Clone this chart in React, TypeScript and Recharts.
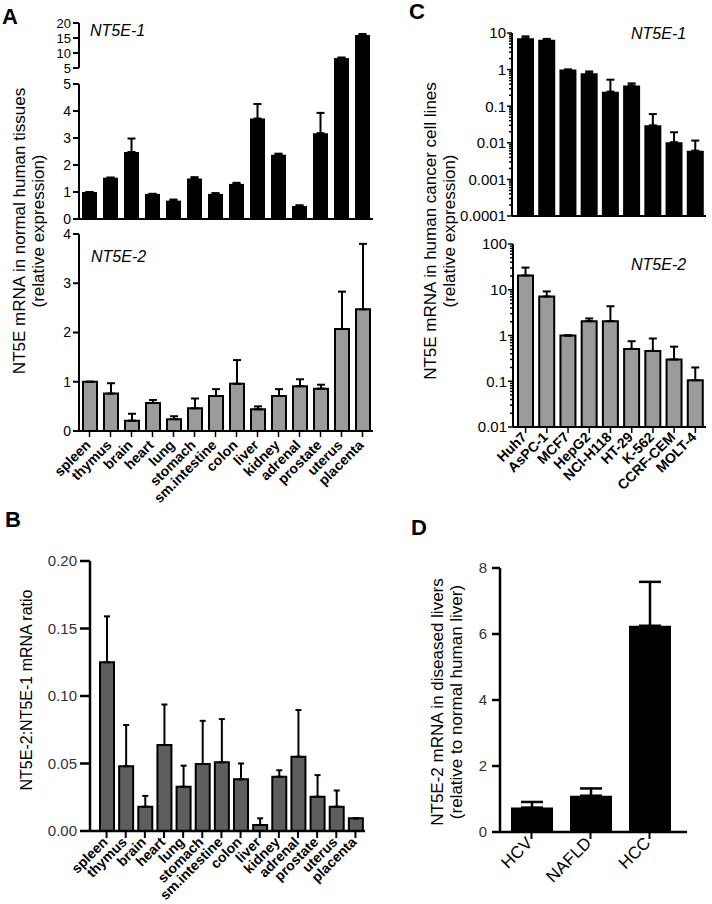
import React from 'react';
import { BarChart, Bar, XAxis, YAxis, ErrorBar } from 'recharts';

const FONT = '"Liberation Sans", Arial, Helvetica, sans-serif';

// panel A / B categories
const tissues = [
  'spleen', 'thymus', 'brain', 'heart', 'lung', 'stomach', 'sm.intestine',
  'colon', 'liver', 'kidney', 'adrenal', 'prostate', 'uterus', 'placenta',
];
// A, NT5E-1 (relative expression) and upward SEM
const nt5e1Tissue = [1.0, 1.53, 2.48, 0.93, 0.68, 1.5, 0.93, 1.3, 3.72, 2.38, 0.48, 3.18, 8.3, 16.0];
const nt5e1TissueErr = [0, 0, 0.5, 0, 0.04, 0.05, 0.03, 0.04, 0.54, 0.04, 0.03, 0.75, 0.2, 0.35];
// A, NT5E-2
const nt5e2Tissue = [1.0, 0.76, 0.21, 0.57, 0.24, 0.46, 0.71, 0.96, 0.44, 0.71, 0.91, 0.86, 2.07, 2.47];
const nt5e2TissueErr = [0, 0.21, 0.14, 0.06, 0.06, 0.2, 0.14, 0.48, 0.06, 0.14, 0.14, 0.08, 0.76, 1.33];
// B, ratio
const ratio = [0.125, 0.048, 0.018, 0.0637, 0.0328, 0.0496, 0.0509, 0.0383, 0.0044, 0.0402, 0.055, 0.0254, 0.018, 0.0094];
const ratioErr = [0.034, 0.0305, 0.008, 0.030, 0.0156, 0.032, 0.032, 0.0117, 0.005, 0.0048, 0.0346, 0.016, 0.012, 0];

// panel C
const cellLines = ['Huh7', 'AsPC-1', 'MCF7', 'HepG2', 'NCI-H118', 'HT-29', 'K-562', 'CCRF-CEM', 'MOLT-4'];
const nt5e1Cell = [7.2, 6.5, 1.0, 0.8, 0.25, 0.37, 0.03, 0.0104, 0.0061];
const nt5e1CellErr = [0.9, 0.4, 0, 0.09, 0.28, 0.05, 0.031, 0.009, 0.0054];
const nt5e2Cell = [20.5, 7.1, 1.0, 2.06, 2.06, 0.51, 0.46, 0.3, 0.105];
const nt5e2CellErr = [10, 2.1, 0, 0.3, 2.3, 0.24, 0.4, 0.27, 0.095];

// panel D
const liverGroups = ['HCV', 'NAFLD', 'HCC'];
const nt5e2Liver = [0.74, 1.1, 6.25];
const nt5e2LiverErr = [0.17, 0.22, 1.33];

type Row = { name: string; value: number | null; err: [number, number] | null };

const makeRows = (
  names: string[],
  values: number[],
  errs: number[],
  keep: (v: number) => boolean = () => true,
): Row[] =>
  names.map((name, i) => ({
    name,
    value: keep(values[i]) ? values[i] : null,
    err: keep(values[i]) ? [0, errs[i]] : null,
  }));

const BREAK = 5;
const aTopUpper = makeRows(tissues, nt5e1Tissue, nt5e1TissueErr, (v) => v > BREAK);
const aTopLower = makeRows(tissues, nt5e1Tissue, nt5e1TissueErr, (v) => v <= BREAK);
// tall bars still drawn in the lower part (clipped), without their error bars
aTopLower.forEach((r, i) => {
  if (r.value === null) r.value = nt5e1Tissue[i];
});
const aBottom = makeRows(tissues, nt5e2Tissue, nt5e2TissueErr);
const bData = makeRows(tissues, ratio, ratioErr);
const cTop = makeRows(cellLines, nt5e1Cell, nt5e1CellErr);
const cBottom = makeRows(cellLines, nt5e2Cell, nt5e2CellErr);
const dData = makeRows(liverGroups, nt5e2Liver, nt5e2LiverErr);

const logTicks = (lo: number, hi: number) => {
  const t: number[] = [];
  for (let e = lo; e < hi; e++) {
    for (let m = 1; m < 10; m++) t.push(Number((m * Math.pow(10, e)).toPrecision(2)));
  }
  t.push(Math.pow(10, hi));
  return t;
};

const SlantTick = (props: any) => {
  const { x, y, payload, fs = 12, bold = true, dx = 0, dy = 0 } = props;
  const ax = x + dx;
  const ay = y + dy;
  return (
    <text
      x={ax}
      y={ay}
      transform={`rotate(-45 ${ax} ${ay})`}
      textAnchor="end"
      fontSize={fs}
      fontWeight={bold ? 'bold' : 'normal'}
      fontFamily={FONT}
      fill="#000"
    >
      {payload.value}
    </text>
  );
};

const LogTick = (props: any) => {
  const { y, payload, axisX, fs = 15 } = props;
  const v = payload.value as number;
  const e = Math.log10(v);
  const major = Math.abs(e - Math.round(e)) < 1e-6;
  return (
    <g>
      <line x1={axisX - (major ? 5 : 3)} x2={axisX} y1={y} y2={y} stroke="#000" strokeWidth={1.5} />
      {major && (
        <text x={axisX - 6} y={y} dy="0.36em" textAnchor="end" fontSize={fs} fontFamily={FONT} fill="#000">
          {String(v)}
        </text>
      )}
    </g>
  );
};

const axisStyle = { stroke: '#000', strokeWidth: 2 };
const tickFont = (fs: number, fill = '#000') => ({ fontSize: fs, fontFamily: FONT, fill });

const VTitle = ({ cx, cy, fs, lines }: { cx: number; cy: number; fs: number; lines: string[] }) => (
  <div
    style={{
      position: 'absolute',
      left: cx,
      top: cy,
      transform: 'translate(-50%, -50%) rotate(-90deg)',
      whiteSpace: 'nowrap',
      textAlign: 'center',
      fontFamily: FONT,
      fontSize: fs,
      lineHeight: 1.1,
      color: '#000',
    }}
  >
    {lines.map((l) => (
      <div key={l}>{l}</div>
    ))}
  </div>
);

const Note = ({ x, y, text, fs = 16, italic = true, bold = false }: any) => (
  <div
    style={{
      position: 'absolute',
      left: x,
      top: y,
      fontFamily: FONT,
      fontSize: fs,
      fontStyle: italic ? 'italic' : 'normal',
      fontWeight: bold ? 'bold' : 'normal',
      whiteSpace: 'nowrap',
      lineHeight: 1,
    }}
  >
    {text}
  </div>
);

const abs = (left: number, top: number): React.CSSProperties => ({ position: 'absolute', left, top });

export default function App() {
  return (
    <div style={{ position: 'absolute', left: 0, top: 0, width: 712, height: 904, background: '#fff', overflow: 'hidden' }}>
      {/* A, NT5E-1 upper segment (broken axis, 5-20) */}
      <div style={abs(0, 0)}>
        <BarChart width={373} height={76} data={aTopUpper} margin={{ top: 23, right: 0, bottom: 0, left: 0 }}>
          <XAxis dataKey="name" hide />
          <YAxis
            width={79}
            domain={[BREAK - 8 / 3, 20]}
            ticks={[5, 10, 15, 20]}
            allowDataOverflow
            axisLine={{ ...axisStyle, strokeDasharray: '45 40' }}
            tickLine={axisStyle}
            tickSize={6}
            tickMargin={2}
            tick={tickFont(13)}
            interval={0}
          />
          <Bar dataKey="value" fill="#000" barSize={15} isAnimationActive={false}>
            <ErrorBar dataKey="err" width={4} stroke="#000" strokeWidth={2} direction="y" />
          </Bar>
        </BarChart>
      </div>
      {/* A, NT5E-1 lower segment (0-5) */}
      <div style={abs(0, 0)}>
        <BarChart width={373} height={227} data={aTopLower} margin={{ top: 76, right: 0, bottom: 0, left: 0 }}>
          <XAxis dataKey="name" height={8} tick={false} axisLine={axisStyle} tickLine={{ stroke: '#000', strokeWidth: 1.5 }} tickSize={5} interval={0} />
          <YAxis
            width={79}
            domain={[0, BREAK + 8 / 27]}
            ticks={[0, 1, 2, 3, 4, 5]}
            allowDataOverflow
            axisLine={{ ...axisStyle, strokeDasharray: '0 8 300' }}
            tickLine={axisStyle}
            tickSize={6}
            tickMargin={2}
            tick={tickFont(14)}
            interval={0}
          />
          <Bar dataKey="value" fill="#000" barSize={15} isAnimationActive={false}>
            <ErrorBar dataKey="err" width={4} stroke="#000" strokeWidth={2} direction="y" />
          </Bar>
        </BarChart>
      </div>
      {/* A, NT5E-2 */}
      <div style={abs(0, 220)}>
        <BarChart width={373} height={296} data={aBottom} margin={{ top: 14, right: 0, bottom: 0, left: 0 }}>
          <XAxis
            dataKey="name"
            height={85}
            axisLine={axisStyle}
            tickLine={{ stroke: '#000', strokeWidth: 1.5 }}
            tickSize={6}
            interval={0}
            tick={<SlantTick fs={14} dx={2} dy={7} />}
          />
          <YAxis
            width={79}
            domain={[0, 4]}
            ticks={[0, 1, 2, 3, 4]}
            axisLine={axisStyle}
            tickLine={axisStyle}
            tickSize={6}
            tickMargin={2}
            tick={tickFont(14)}
            interval={0}
          />
          <Bar dataKey="value" fill="#9b9b9b" stroke="#000" strokeWidth={2} barSize={14} isAnimationActive={false}>
            <ErrorBar dataKey="err" width={4} stroke="#000" strokeWidth={2} direction="y" />
          </Bar>
        </BarChart>
      </div>

      {/* C, NT5E-1 (log) */}
      <div style={abs(360, 0)}>
        <BarChart width={346} height={224} data={cTop} margin={{ top: 33, right: 0, bottom: 0, left: 0 }}>
          <XAxis dataKey="name" height={8} tick={false} axisLine={axisStyle} tickLine={{ stroke: '#000', strokeWidth: 1.5 }} tickSize={5} interval={0} padding={{ left: 3, right: 0 }} />
          <YAxis
            width={152}
            scale="log"
            domain={[0.0001, 10]}
            ticks={logTicks(-4, 1)}
            allowDataOverflow
            axisLine={axisStyle}
            tickLine={false}
            interval={0}
            tick={<LogTick axisX={152} fs={15} />}
          />
          <Bar dataKey="value" fill="#000" barSize={17} isAnimationActive={false}>
            <ErrorBar dataKey="err" width={4} stroke="#000" strokeWidth={2} direction="y" />
          </Bar>
        </BarChart>
      </div>
      {/* C, NT5E-2 (log) */}
      <div style={abs(360, 230)}>
        <BarChart width={346} height={275} data={cBottom} margin={{ top: 14, right: 0, bottom: 0, left: 0 }}>
          <XAxis
            dataKey="name"
            height={78}
            axisLine={axisStyle}
            tickLine={{ stroke: '#000', strokeWidth: 1.5 }}
            tickSize={6}
            interval={0}
            padding={{ left: 2, right: 0 }}
            tick={<SlantTick fs={14} dx={2} dy={3} />}
          />
          <YAxis
            width={153}
            scale="log"
            domain={[0.01, 100]}
            ticks={logTicks(-2, 2)}
            allowDataOverflow
            axisLine={axisStyle}
            tickLine={false}
            interval={0}
            tick={<LogTick axisX={153} fs={15} />}
          />
          <Bar dataKey="value" fill="#9b9b9b" stroke="#000" strokeWidth={2} barSize={15} isAnimationActive={false}>
            <ErrorBar dataKey="err" width={4} stroke="#000" strokeWidth={2} direction="y" />
          </Bar>
        </BarChart>
      </div>

      {/* B, ratio */}
      <div style={abs(0, 540)}>
        <BarChart width={365} height={364} data={bData} margin={{ top: 21, right: 0, bottom: 0, left: 0 }}>
          <XAxis
            dataKey="name"
            height={73}
            axisLine={{ stroke: '#000', strokeWidth: 2.5 }}
            tickLine={{ stroke: '#000', strokeWidth: 2 }}
            tickSize={7}
            interval={0}
            padding={{ left: 7, right: 0 }}
            tick={<SlantTick fs={14} dx={2} dy={3} />}
          />
          <YAxis
            width={90}
            domain={[0, 0.2]}
            ticks={[0, 0.05, 0.1, 0.15, 0.2]}
            tickFormatter={(v: number) => v.toFixed(2)}
            axisLine={{ stroke: '#000', strokeWidth: 2.5 }}
            tickLine={{ stroke: '#000', strokeWidth: 2.5 }}
            tickSize={10}
            tickMargin={3}
            tick={tickFont(15, '#333')}
            interval={0}
          />
          <Bar dataKey="value" fill="#5e5e5e" stroke="#000" strokeWidth={2} barSize={14} isAnimationActive={false}>
            <ErrorBar dataKey="err" width={3} stroke="#000" strokeWidth={2} direction="y" />
          </Bar>
        </BarChart>
      </div>

      {/* D, diseased livers */}
      <div style={abs(360, 550)}>
        <BarChart width={327} height={352} data={dData} margin={{ top: 18, right: 0, bottom: 0, left: 0 }}>
          <XAxis
            dataKey="name"
            height={70}
            axisLine={{ stroke: '#000', strokeWidth: 2.5 }}
            tickLine={{ stroke: '#000', strokeWidth: 2 }}
            tickSize={7}
            interval={0}
            padding={{ left: 2, right: 8 }}
            tick={<SlantTick fs={17} bold={false} dx={2} dy={3} />}
          />
          <YAxis
            width={140}
            domain={[0, 8]}
            ticks={[0, 2, 4, 6, 8]}
            axisLine={{ stroke: '#000', strokeWidth: 2.5 }}
            tickLine={{ stroke: '#000', strokeWidth: 2.5 }}
            tickSize={8}
            tickMargin={5}
            tick={tickFont(15, '#333')}
            interval={0}
          />
          <Bar dataKey="value" fill="#000" barSize={42} isAnimationActive={false}>
            <ErrorBar dataKey="err" width={11} stroke="#000" strokeWidth={2.5} direction="y" />
          </Bar>
        </BarChart>
      </div>

      {/* axis titles */}
      <VTitle cx={30} cy={231} fs={17} lines={['NT5E mRNA in normal human tissues', '(relative expression)']} />
      <VTitle cx={441} cy={231} fs={17} lines={['NT5E mRNA in human cancer cell lines', '(relative expression)']} />
      <VTitle cx={27} cy={690} fs={16} lines={['NT5E-2:NT5E-1 mRNA ratio']} />
      <VTitle cx={448} cy={702} fs={17} lines={['NT5E-2 mRNA in diseased livers', '(relative to normal human liver)']} />

      {/* in-plot labels */}
      <Note x={90} y={23} text="NT5E-1" />
      <Note x={91} y={249} text="NT5E-2" />
      <Note x={631} y={26} text="NT5E-1" />
      <Note x={631} y={257} text="NT5E-2" />

      {/* panel letters */}
      <Note x={2} y={6} text="A" fs={22} italic={false} bold />
      <Note x={409} y={1} text="C" fs={22} italic={false} bold />
      <Note x={5} y={509} text="B" fs={22} italic={false} bold />
      <Note x={411} y={517} text="D" fs={22} italic={false} bold />
    </div>
  );
}
